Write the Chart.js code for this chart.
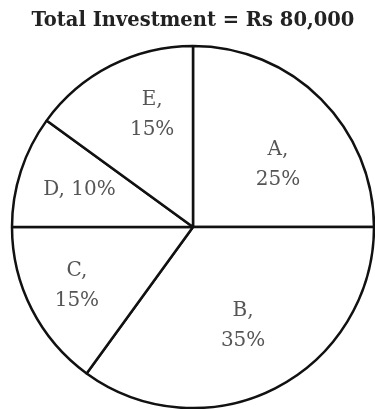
<!DOCTYPE html>
<html>
<head>
<meta charset="utf-8">
<script src="https://cdn.jsdelivr.net/npm/chart.js@4/dist/chart.umd.min.js"></script>
<style>
  body { margin: 0; background: #fff; }
  #wrap { width: 375px; height: 409px; }
</style>
</head>
<body>
<div id="wrap"><canvas id="myChart" width="375" height="409"></canvas></div>
<script>
const categories = ["A", "B", "C", "D", "E"];
const shares = [25, 35, 15, 10, 15];
const titleText = "Total Investment = Rs 80,000";

// where each label sits: [angle shift in degrees from the slice middle, fraction of radius]
const labelSpots = {
  A: [9, 0.58, true],
  B: [0, 0.61, true],
  C: [0, 0.72, true],
  D: [0, 0.66, false],
  E: [7, 0.66, true]
};

const sliceLabels = {
  id: "sliceLabels",
  afterDatasetsDraw(chart) {
    const ctx = chart.ctx;
    const meta = chart.getDatasetMeta(0);
    ctx.save();
    ctx.fillStyle = "#555";
    ctx.font = "20px 'DejaVu Serif'";
    ctx.textAlign = "center";
    ctx.textBaseline = "middle";
    meta.data.forEach((arc, i) => {
      const cat = categories[i];
      const spot = labelSpots[cat];
      const mid = (arc.startAngle + arc.endAngle) / 2 + spot[0] * Math.PI / 180;
      const r = arc.outerRadius * spot[1];
      const x = arc.x + Math.cos(mid) * r;
      const y = arc.y + Math.sin(mid) * r;
      if (spot[2]) {
        ctx.fillText(cat + ",", x, y - 15);
        ctx.fillText(shares[i] + "%", x, y + 15);
      } else {
        ctx.fillText(cat + ", " + shares[i] + "%", x, y);
      }
    });
    ctx.restore();
  }
};

const ctx = document.getElementById("myChart").getContext("2d");
const myChart = new Chart(ctx, {
  type: "pie",
  data: {
    labels: categories,
    datasets: [
      {
        data: shares,
        backgroundColor: "#fff",
        borderColor: "#111",
        borderWidth: 2.5
      }
    ]
  },
  options: {
    responsive: false,
    animation: false,
    radius: 181,
    layout: { padding: { left: 12, right: 1, top: 0, bottom: 1 } },
    plugins: {
      legend: { display: false },
      tooltip: { enabled: false },
      title: {
        display: true,
        text: titleText,
        color: "#222",
        font: { family: "'DejaVu Serif'", size: 19.5, weight: "bold", lineHeight: 1.2 },
        padding: { top: 9, bottom: 13.6 }
      }
    }
  },
  plugins: [sliceLabels]
});
</script>
</body>
</html>
